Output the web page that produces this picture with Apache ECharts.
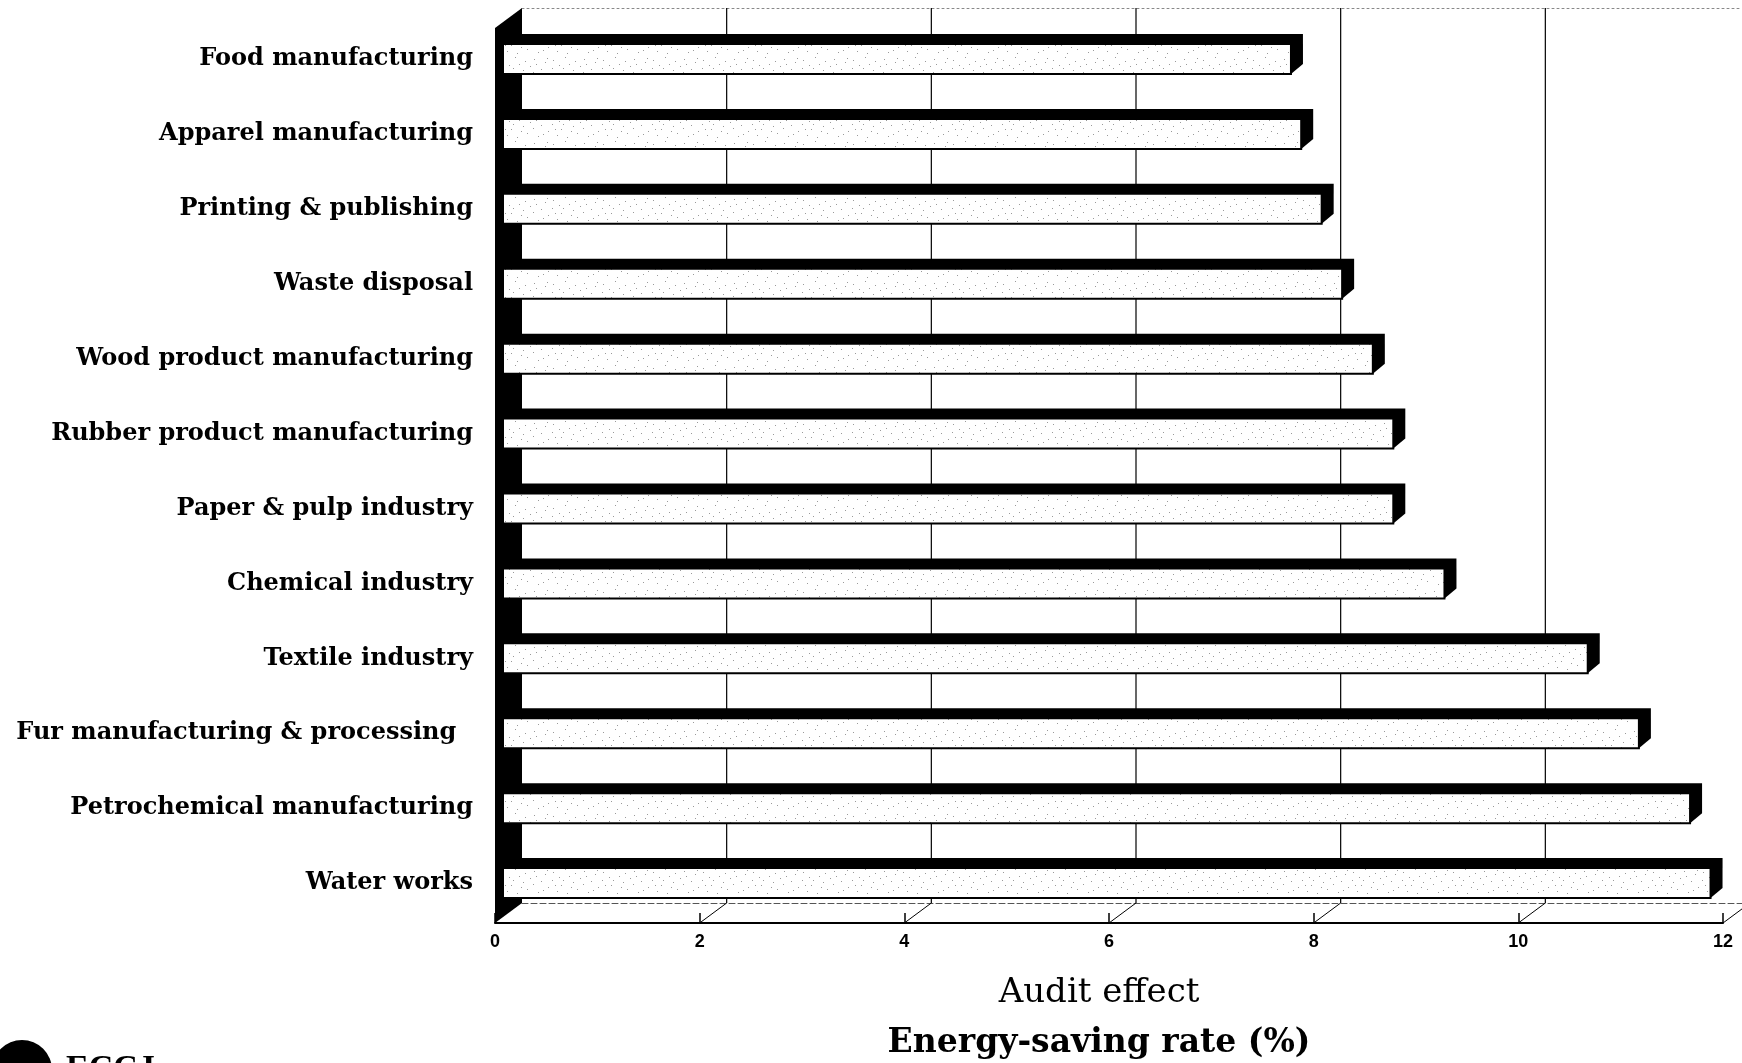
<!DOCTYPE html>
<html><head><meta charset="utf-8">
<script src="https://cdn.jsdelivr.net/npm/echarts@6/dist/echarts.min.js"></script>
<style>html,body{margin:0;padding:0;background:#fff}#c{width:1742px;height:1063px}</style>
</head><body><div id="c"></div>
<script>
// ---- data ----
const categories = ['Food manufacturing', 'Apparel manufacturing', 'Printing & publishing', 'Waste disposal',
  'Wood product manufacturing', 'Rubber product manufacturing', 'Paper & pulp industry', 'Chemical industry',
  'Textile industry', 'Fur manufacturing & processing\u00a0\u00a0', 'Petrochemical manufacturing', 'Water works'];
const savingRate = [7.7, 7.8, 8.0, 8.2, 8.5, 8.7, 8.7, 9.2, 10.6, 11.1, 11.6, 11.8];
const xTicks = [0, 2, 4, 6, 8, 10, 12];
const axisTitle = 'Audit effect';
const axisSubtitle = 'Energy-saving rate (%)';
const logoText = 'ECCJ';

// ---- layout constants ----
const FRONT_LEFT = 495, AXIS_W = 1228, FRONT_Y = 923;
const DEPTH_X = 27, DEPTH_Y = 20, BACK_TOP = 8;
const BAR_LEFT = 503, BAR_TOP = 21.5, BAR_H_AREA = 899;
const FACE_H = 30, EXT_X = 12, EXT_Y = 10;

// speckled face pattern
const pat = document.createElement('canvas');
pat.width = 50; pat.height = 28;
const g = pat.getContext('2d');
g.fillStyle = '#fff'; g.fillRect(0, 0, 50, 28);
g.fillStyle = '#9a9a9a';
[[3,4],[11,17],[19,8],[27,21],[34,3],[41,13],[7,23],[23,14],[45,6],[15,1],[30,10],[38,24],[48,19],[2,12],
 [9,9],[17,25],[25,5],[33,16],[43,22],[47,2],[13,12],[36,8],[21,19],[5,17]].forEach(p => g.fillRect(p[0], p[1], 1, 1));

const chart = echarts.init(document.getElementById('c'), null, {renderer: 'canvas'});
chart.setOption({
  backgroundColor: '#fff',
  animation: false,
  grid: [
    {left: BAR_LEFT, top: BAR_TOP, width: AXIS_W, height: BAR_H_AREA},
    {left: FRONT_LEFT, top: FRONT_Y - DEPTH_Y, width: AXIS_W, height: DEPTH_Y},
    {left: FRONT_LEFT + DEPTH_X, top: BACK_TOP, right: 0, height: FRONT_Y - DEPTH_Y - BACK_TOP}
  ],
  xAxis: [
    {gridIndex: 0, type: 'value', min: 0, max: 12, interval: 2, show: false},
    {gridIndex: 1, type: 'value', min: 0, max: 12, interval: 2, position: 'bottom',
      axisLine: {show: true, lineStyle: {color: '#000', width: 2}},
      axisTick: {show: true, inside: true, length: 10, lineStyle: {color: '#000', width: 1.5}},
      axisLabel: {color: '#000', fontFamily: '"Liberation Sans Narrow", "Liberation Sans", Arial, sans-serif', fontWeight: 'bold', fontSize: 18, margin: 10},
      splitLine: {show: false}},
    {gridIndex: 2, type: 'value', min: 0, max: 1, position: 'bottom',
      axisLine: {show: true, lineStyle: {color: '#555', width: 1, type: [6, 3]}},
      axisTick: {show: false}, axisLabel: {show: false}, splitLine: {show: false}},
    {gridIndex: 2, type: 'value', min: 0, max: 1, position: 'top',
      axisLine: {show: true, lineStyle: {color: '#888', width: 1, type: [2, 3]}},
      axisTick: {show: false}, axisLabel: {show: false}, splitLine: {show: false}}
  ],
  yAxis: [
    {gridIndex: 0, type: 'category', data: categories, inverse: true,
      axisLine: {show: false}, axisTick: {show: false}, splitLine: {show: false},
      axisLabel: {color: '#000', fontFamily: '"DejaVu Serif", "Liberation Serif", serif', fontWeight: 'bold', fontSize: 24, margin: 30}},
    {gridIndex: 1, type: 'value', min: 0, max: 1, show: false},
    {gridIndex: 2, type: 'value', min: 0, max: 1, show: false}
  ],
  series: [
    { // back-wall gridlines, projected from the front axis ticks
      type: 'custom', xAxisIndex: 1, yAxisIndex: 1, z: 1, silent: true,
      data: xTicks.filter(t => t > 0 && t < 12).map(t => [t, 1]),
      renderItem: (params, api) => {
        const p = api.coord([api.value(0), 1]);
        return {type: 'line', shape: {x1: p[0] + DEPTH_X, y1: p[1], x2: p[0] + DEPTH_X, y2: BACK_TOP},
          style: {stroke: '#000', lineWidth: 1.2}};
      }
    },
    { // floor diagonals
      type: 'custom', xAxisIndex: 1, yAxisIndex: 1, z: 3, silent: true,
      data: xTicks.filter(t => t > 0).map(t => [t, 0]),
      renderItem: (params, api) => {
        const p = api.coord([api.value(0), 0]);
        return {type: 'line', shape: {x1: p[0], y1: p[1], x2: p[0] + DEPTH_X, y2: p[1] - DEPTH_Y},
          style: {stroke: '#000', lineWidth: 1}};
      }
    },
    {
      type: 'custom', xAxisIndex: 0, yAxisIndex: 0, z: 4,
      data: savingRate.map((v, i) => [v, i]),
      encode: {x: 0, y: 1},
      renderItem: (params, api) => {
        const v = api.value(0), idx = api.value(1);
        const p0 = api.coord([0, idx]);
        const p1 = api.coord([v, idx]);
        const yT = p0[1] - FACE_H / 2, yB = p0[1] + FACE_H / 2;
        return {type: 'group', children: [
          {type: 'polygon', shape: {points: [[p0[0], yT], [p0[0] + EXT_X, yT - EXT_Y], [p1[0] + EXT_X, yT - EXT_Y],
            [p1[0] + EXT_X, yB - EXT_Y], [p1[0], yB], [p0[0], yB]]}, style: {fill: '#000'}},
          {type: 'rect', shape: {x: p0[0], y: yT, width: p1[0] - p0[0], height: FACE_H},
            style: {fill: {image: pat, repeat: 'repeat'}, stroke: '#000', lineWidth: 2}}
        ]};
      }
    }
  ],
  graphic: [
    {type: 'polygon', z: 2, shape: {points: [[FRONT_LEFT, BACK_TOP + DEPTH_Y], [FRONT_LEFT + DEPTH_X, BACK_TOP],
      [FRONT_LEFT + DEPTH_X, FRONT_Y - DEPTH_Y], [FRONT_LEFT, FRONT_Y]]}, style: {fill: '#000'}},
    {type: 'text', x: 1099, y: 993, style: {text: axisTitle, fill: '#000', font: '34px "DejaVu Serif", "Liberation Serif", serif', textAlign: 'center', textVerticalAlign: 'middle'}},
    {type: 'text', x: 1099, y: 1043, style: {text: axisSubtitle, fill: '#000', font: 'bold 33px "DejaVu Serif", "Liberation Serif", serif', textAlign: 'center', textVerticalAlign: 'middle'}},
    {type: 'circle', shape: {cx: 22, cy: 1070, r: 30}, style: {fill: '#000'}},
    {type: 'text', x: 66, y: 1052, style: {text: logoText, fill: '#000', font: 'bold 34px "Liberation Serif", serif', textAlign: 'left', textVerticalAlign: 'top'}}
  ]
});
</script></body></html>
